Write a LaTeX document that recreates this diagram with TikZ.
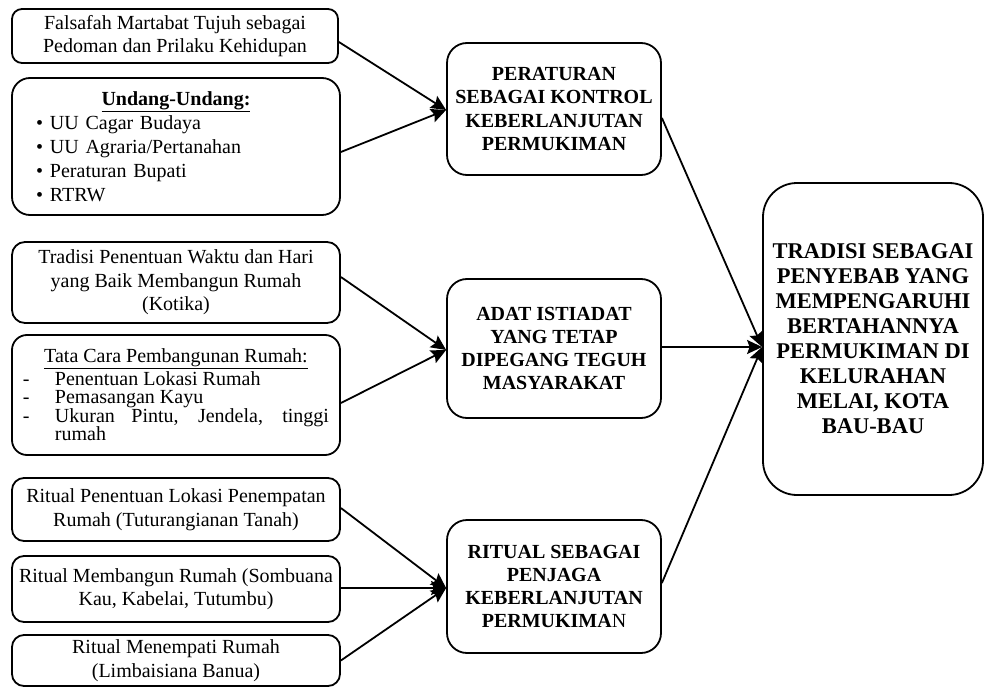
\documentclass[tikz,border=0pt]{standalone}
\usepackage{fontspec}
\setmainfont{Liberation Serif}
\usetikzlibrary{arrows.meta}
\newcommand{\dashitem}[1]{\par\hangindent=32pt\hangafter=1\noindent\makebox[32pt][l]{-}#1\par}
\newcommand{\bulitem}[1]{\par\noindent\makebox[14pt][l]{\textbullet}#1\par}
\begin{document}
\begin{tikzpicture}[x=1pt,y=-1pt,
  rbox/.style={draw, line width=1.8pt, rounded corners=#1, inner sep=0pt,
    font=\fontsize{20}{23.5}\selectfont},
  midbox/.style={rbox=20pt, align=center, minimum width=214pt,
    font=\fontsize{20}{23.3}\selectfont\bfseries},
  conn/.style={draw, line width=1.8pt, -{Stealth[length=15pt,width=14pt,inset=2.5pt]}}]
\useasboundingbox (0,0) rectangle (985,687);
\fill[white] (0,0) rectangle (985,687);

% left column
\node[rbox=10pt, align=center, minimum width=326pt, minimum height=54pt] (fal) at (175,36)
  {Falsafah Martabat Tujuh sebagai\\Pedoman dan Prilaku Kehidupan};
\node[rbox=18pt, text width=280pt, inner xsep=24pt, minimum width=328pt, minimum height=137pt,
  font=\fontsize{20}{24}\selectfont] (uu) at (176,146.5)
  {{\centering\textbf{\underline{Undang-Undang:}}\par}\raggedright
   \bulitem{UU Cagar Budaya}\bulitem{UU Agraria/Pertanahan}\bulitem{Peraturan Bupati}\bulitem{RTRW}};
\node[rbox=15pt, text width=306pt, align=justify, minimum width=328pt, minimum height=120pt,
  font=\fontsize{20}{18.5}\selectfont] (tata) at (176,395)
  {\lineskiplimit=-20pt{\centering\underline{Tata Cara Pembangunan Rumah:}\par}\vspace{4pt}
   \dashitem{Penentuan Lokasi Rumah}\dashitem{Pemasangan Kayu}\dashitem{Ukuran Pintu, Jendela, tinggi\linebreak rumah}\vspace*{28pt}};
\node[rbox=13pt, align=center, minimum width=328pt, minimum height=81pt] (tra) at (176,282.5)
  {Tradisi Penentuan Waktu dan Hari\\yang Baik Membangun Rumah\\(Kotika)};
\node[rbox=12pt, align=center, minimum width=328pt, minimum height=63pt] (rit1) at (176,509.5)
  {Ritual Penentuan Lokasi Penempatan\\Rumah (Tuturangianan Tanah)};
\node[rbox=12pt, align=center, minimum width=328pt, minimum height=66pt] (rit2) at (176,589)
  {Ritual Membangun Rumah (Sombuana\\Kau, Kabelai, Tutumbu)};
\node[rbox=12pt, align=center, minimum width=328pt, minimum height=51pt] (rit3) at (176,660.5)
  {Ritual Menempati Rumah\\(Limbaisiana Banua)};

% middle column
\node[midbox, minimum height=132pt] (A) at (554,109)
  {PERATURAN\\SEBAGAI KONTROL\\KEBERLANJUTAN\\PERMUKIMAN};
\node[midbox, minimum height=139pt] (B) at (554,348.5)
  {ADAT ISTIADAT\\YANG TETAP\\DIPEGANG TEGUH\\MASYARAKAT};
\node[midbox, minimum height=133pt] (C) at (554,586.5)
  {RITUAL SEBAGAI\\PENJAGA\\KEBERLANJUTAN\\PERMUKIMA{\mdseries N}};

% right box
\node[rbox=34pt, align=center, minimum width=220pt, minimum height=312pt,
  font=\fontsize{22.5}{25}\selectfont\bfseries] (R) at (873,339)
  {TRADISI SEBAGAI\\PENYEBAB YANG\\MEMPENGARUHI\\BERTAHANNYA\\PERMUKIMAN DI\\KELURAHAN\\MELAI, KOTA\\BAU-BAU};

% connectors
\draw[conn] ([yshift=-6pt]fal.east) -- ([yshift=-1pt]A.west);
\draw[conn] ([yshift=-5.5pt]uu.east) -- ([yshift=-1pt]A.west);
\draw[conn] ([yshift=5.5pt]tra.east) -- ([yshift=-1.5pt]B.west);
\draw[conn] ([yshift=-8pt]tata.east) -- ([yshift=-1.5pt]B.west);
\draw[conn] ([yshift=1.5pt]rit1.east) -- ([yshift=-1.5pt]C.west);
\draw[conn] ([yshift=1pt]rit2.east) -- ([yshift=-1.5pt]C.west);
\draw[conn] (rit3.east) -- ([yshift=-1.5pt]C.west);
\draw[conn] ([yshift=-9pt]A.east) -- ([yshift=-8pt]R.west);
\draw[conn] ([yshift=1.5pt]B.east) -- ([yshift=-8pt]R.west);
\draw[conn] ([yshift=3.5pt]C.east) -- ([yshift=-8pt]R.west);
\end{tikzpicture}
\end{document}
